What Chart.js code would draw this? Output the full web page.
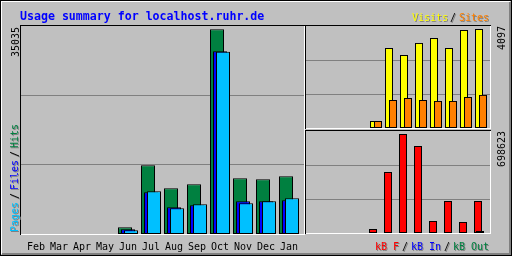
<!DOCTYPE html>
<html><head><meta charset="utf-8">
<script src="https://cdn.jsdelivr.net/npm/chart.js@4/dist/chart.umd.min.js"></script>
<style>
html,body{margin:0;padding:0;background:#C0C0C0;}
#wrap{position:relative;width:512px;height:256px;overflow:hidden;background:#C0C0C0;}
canvas{position:absolute;left:0;top:0;}
</style></head><body>
<div id="wrap">
<canvas id="c1" width="512" height="256"></canvas>
<canvas id="c2" width="512" height="256"></canvas>
<canvas id="c3" width="512" height="256"></canvas>
</div>
<script>
// ---- data ----
const months = ['Feb','Mar','Apr','May','Jun','Jul','Aug','Sep','Oct','Nov','Dec','Jan'];
const hits   = [0,0,0,0,1150,11760,7820,8510,35035,9530,9360,9880];
const files  = [0,0,0,0,800,7140,4570,4910,31270,5600,5600,5770];
const pages  = [0,0,0,0,630,7310,4400,5080,31200,5250,5600,6110];
const visits = [0,0,0,0,290,3310,3020,3520,3720,3310,4055,4097];
const sites  = [0,0,0,0,290,1160,1240,1160,1120,1120,1280,1370];
const kbF    = [0,0,0,0,28000,430000,698623,614000,85000,226000,78000,226000];
const kbIn   = [0,0,0,0,0,0,0,0,0,0,0,0];
const kbOut  = [0,0,0,0,0,0,0,0,0,0,0,14000];
const titleText = 'Usage summary for localhost.ruhr.de';
const maxHitsLabel = '35035', maxVisitsLabel = '4097', maxKBLabel = '698623';

// ---- helpers ----
function pts(arr, off){ return arr.map((v,i)=> v>0 ? {x:i+off, y:v} : null).filter(Boolean); }
function bar(label, arr, off, color, w, order){
  return {label, data:pts(arr,off), backgroundColor:color, borderColor:'#000000', borderWidth:1,
          borderSkipped:false, inflateAmount:0, barThickness:w, grouped:false, order};
}
const MONO = '"DejaVu Sans Mono", monospace';
function thirdsGrid(max){ return s => { s.ticks = [{value:max/3},{value:2*max/3}]; }; }
function yAxis(max){
  return {display:true, min:0, max:max, afterBuildTicks:thirdsGrid(max), afterFit:s=>{s.width=0;},
          ticks:{display:false}, grid:{color:'#808080', lineWidth:1, drawTicks:false}, border:{display:false}};
}
const baseOpts = {responsive:false, animation:false, devicePixelRatio:1,
  plugins:{legend:{display:false}, tooltip:{enabled:false}, title:{display:false}}};

function txt(ctx, s, x, y, color, font, rot, shadow){
  const pass = (dx,dy,c)=>{
    ctx.save(); ctx.font=font; ctx.textBaseline='alphabetic'; ctx.textAlign='left';
    ctx.translate(x+dx,y+dy); if(rot) ctx.rotate(-Math.PI/2);
    ctx.fillStyle=c; ctx.fillText(s,0,0); ctx.restore();
  };
  if(shadow) pass(1,1,'#808080');
  pass(0,0,color);
}
function panel(ctx, x0, y0, x1, y1){
  ctx.fillStyle='#000000';
  ctx.fillRect(x0,y0,x1-x0+1,1); ctx.fillRect(x0,y0,1,y1-y0+1);
  ctx.fillStyle='#FFFFFF';
  ctx.fillRect(x0+1,y1,x1-x0,1); ctx.fillRect(x1,y0+1,1,y1-y0);
}
const framePlugin = {
  id:'frame',
  afterDraw(chart){
    const ctx = chart.ctx;
    ctx.save();
    // outer frame
    ctx.fillStyle='#000000'; ctx.fillRect(0,0,512,1); ctx.fillRect(0,0,1,256); ctx.fillRect(511,0,1,256); ctx.fillRect(0,255,512,1);
    ctx.fillStyle='#FFFFFF'; ctx.fillRect(1,1,509,1); ctx.fillRect(1,1,1,253);
    ctx.fillStyle='#808080'; ctx.fillRect(509,2,2,253); ctx.fillRect(2,253,509,2);
    // panels
    panel(ctx,20,25,304,234);
    panel(ctx,305,25,490,128);
    panel(ctx,305,130,490,233);
    // texts
    const F10 = '10px '+MONO, TF = 'bold 11.6px '+MONO;
    txt(ctx,titleText,20,20,'#0000FF',TF,false,false);
    txt(ctx,'Visits',412,21,'#FFFF00',F10,false,true);
    txt(ctx,'/',450,21,'#000000',F10,false,true);
    txt(ctx,'Sites',459,21,'#FF8000',F10,false,true);
    txt(ctx,'kB F',375,250,'#FF0000',F10,false,true);
    txt(ctx,'/',402,250,'#000000',F10,false,true);
    txt(ctx,'kB In',411,250,'#0000FF',F10,false,true);
    txt(ctx,'/',444,250,'#000000',F10,false,true);
    txt(ctx,'kB Out',453,250,'#008040',F10,false,true);
    txt(ctx,maxHitsLabel,19,57,'#000000',F10,true,false);
    txt(ctx,'Pages',18,232,'#00C0FF',F10,true,true);
    txt(ctx,'/',18,199,'#000000',F10,true,true);
    txt(ctx,'Files',18,190,'#0000FF',F10,true,true);
    txt(ctx,'/',18,157,'#000000',F10,true,true);
    txt(ctx,'Hits',18,148,'#008040',F10,true,true);
    txt(ctx,maxVisitsLabel,505,50,'#000000',F10,true,false);
    txt(ctx,maxKBLabel,505,167,'#000000',F10,true,false);
    ctx.restore();
  }
};

// ---- main chart: hits / files / pages ----
const U1 = 23;
new Chart(document.getElementById('c1'), {
  type:'bar',
  data:{datasets:[
    bar('Pages', pages,  3/U1, '#00C0FF', 14, 1),
    bar('Files', files,  0,    '#0000FF', 14, 2),
    bar('Hits',  hits,  -3/U1, '#008040', 14, 3)
  ]},
  options:Object.assign({}, baseOpts, {
    layout:{padding:{left:21, top:26, right:208, bottom:0}},
    scales:{
      x:{type:'linear', offset:false, min:-15/U1, max:268/U1,
         grid:{display:false, offset:false}, border:{display:false},
         afterBuildTicks:s=>{ s.ticks = months.map((m,i)=>({value:i})); },
         afterFit:s=>{ s.height = 22; },
         ticks:{autoSkip:false, maxRotation:0, minRotation:0, padding:-1, color:'#000000',
                font:{family:MONO, size:10}, callback:v=>months[v]}},
      y:yAxis(35600)
    }
  }),
  plugins:[framePlugin]
});

// ---- visits / sites ----
const U2 = 15;
new Chart(document.getElementById('c2'), {
  type:'bar',
  data:{datasets:[
    bar('Sites',  sites,  4/U2, '#FF8000', 8, 1),
    bar('Visits', visits, 0,    '#FFFF00', 8, 2)
  ]},
  options:Object.assign({}, baseOpts, {
    layout:{padding:{left:306, top:26, right:22, bottom:128}},
    scales:{
      x:{type:'linear', display:false, offset:false, min:-8/U2, max:176/U2},
      y:yAxis(4221)
    }
  })
});

// ---- kB F / In / Out ----
new Chart(document.getElementById('c3'), {
  type:'bar',
  data:{datasets:[
    bar('kB Out', kbOut, 2/U2, '#008040', 8, 1),
    bar('kB In',  kbIn,  1/U2, '#0000FF', 8, 2),
    bar('kB F',   kbF,   0,    '#FF0000', 8, 3)
  ]},
  options:Object.assign({}, baseOpts, {
    layout:{padding:{left:306, top:131, right:22, bottom:23}},
    scales:{
      x:{type:'linear', display:false, offset:false, min:-7/U2, max:177/U2},
      y:yAxis(719790)
    }
  })
});
</script>
</body></html>
